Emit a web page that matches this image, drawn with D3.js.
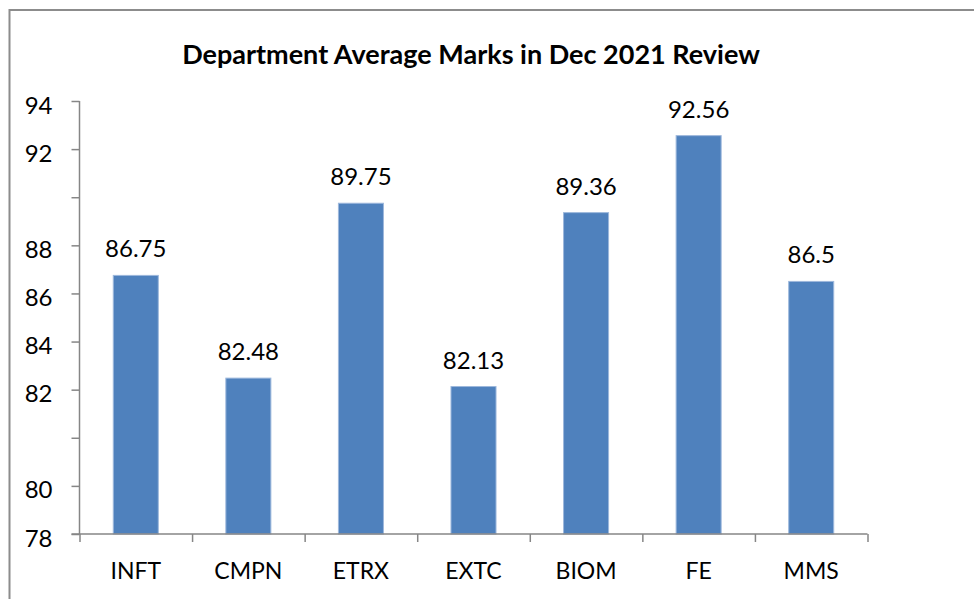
<!DOCTYPE html>
<html>
<head>
<meta charset="utf-8">
<script src="https://cdn.jsdelivr.net/npm/d3@7"></script>
<style>
    body { margin: 0; background: #fff; }
    text { font-family: Lato, "Open Sans", sans-serif; fill: #000; }
</style>
</head>
<body>
<script>
var departments = ["INFT", "CMPN", "ETRX", "EXTC", "BIOM", "FE", "MMS"];
var averageMarks = [86.75, 82.48, 89.75, 82.13, 89.36, 92.56, 86.5];
var yTickValues = [76, 78, 80, 82, 84, 86, 88, 90, 92, 94];
var yTickLabels = ["78", "80", "", "82", "84", "86", "88", "", "92", "94"];
var chartTitle = "Department Average Marks in Dec 2021 Review";

var w = 974, h = 599;

var svg = d3.select("body")
            .append("svg")
            .attr("width", w)
            .attr("height", h);

svg.append("rect")
    .attr("x", 9.5)
    .attr("y", 10)
    .attr("width", w + 20)
    .attr("height", h + 20)
    .attr("fill", "#fff")
    .attr("stroke", "#8c8c8c")
    .attr("stroke-width", 2);

svg.append("text")
    .attr("x", 471)
    .attr("y", 64)
    .attr("text-anchor", "middle")
    .style("font-size", "27px")
    .style("font-weight", "bold")
    .text(chartTitle);

var xScale = d3.scaleBand()
                .domain(departments)
                .range([79.5, 867.5])
                .paddingInner(0.6)
                .paddingOuter(0.3);

var yScale = d3.scaleLinear()
                .domain([76, 94])
                .range([534, 101]);

var data = departments.map((d, i) => ({key: d, value: averageMarks[i]}));

var barGroup = svg.append("g");

barGroup.selectAll("rect")
        .data(data)
        .enter()
        .append("rect")
        .attr("x", d => xScale(d.key))
        .attr("y", d => yScale(d.value))
        .attr("width", xScale.bandwidth())
        .attr("height", d => yScale(76) - yScale(d.value))
        .attr("fill", "#4f81bd")
        .attr("stroke", "#9db8dc")
        .attr("stroke-width", 1);

barGroup.selectAll("text")
        .data(data)
        .enter()
        .append("text")
        .attr("x", d => xScale(d.key) + xScale.bandwidth() / 2)
        .attr("y", d => yScale(d.value) - 18)
        .attr("text-anchor", "middle")
        .style("font-size", "24px")
        .text(d => d.value);

var yAxis = d3.axisLeft()
            .scale(yScale)
            .tickValues(yTickValues)
            .tickSize(8)
            .tickPadding(19)
            .tickFormat((d, i) => yTickLabels[i]);

var xAxis = d3.axisBottom()
            .scale(d3.scaleLinear().domain([0, departments.length]).range(xScale.range()))
            .ticks(departments.length)
            .tickSize(8)
            .tickFormat("");

var yG = svg.append("g")
    .attr("transform", "translate(79.5,0)")
    .call(yAxis);

var xG = svg.append("g")
    .attr("transform", "translate(0,534)")
    .call(xAxis);

[yG, xG].forEach(function(g) {
    g.select(".domain").attr("stroke", "#868686").attr("stroke-width", 1.5);
    g.selectAll(".tick line").attr("stroke", "#868686").attr("stroke-width", 1.5);
});

yG.select(".domain").attr("d", "M0,101V534");
xG.select(".domain").attr("d", "M" + (79.5 - 8) + ",0H867.5");

yG.selectAll(".tick text")
    .attr("dy", "0.5em")
    .style("font-size", "24px")
    .style("font-family", "Lato, sans-serif");

svg.append("g")
    .selectAll("text")
    .data(departments)
    .enter()
    .append("text")
    .attr("x", d => xScale(d) + xScale.bandwidth() / 2)
    .attr("y", 579)
    .attr("text-anchor", "middle")
    .style("font-size", "23px")
    .text(d => d);
</script>
</body>
</html>
